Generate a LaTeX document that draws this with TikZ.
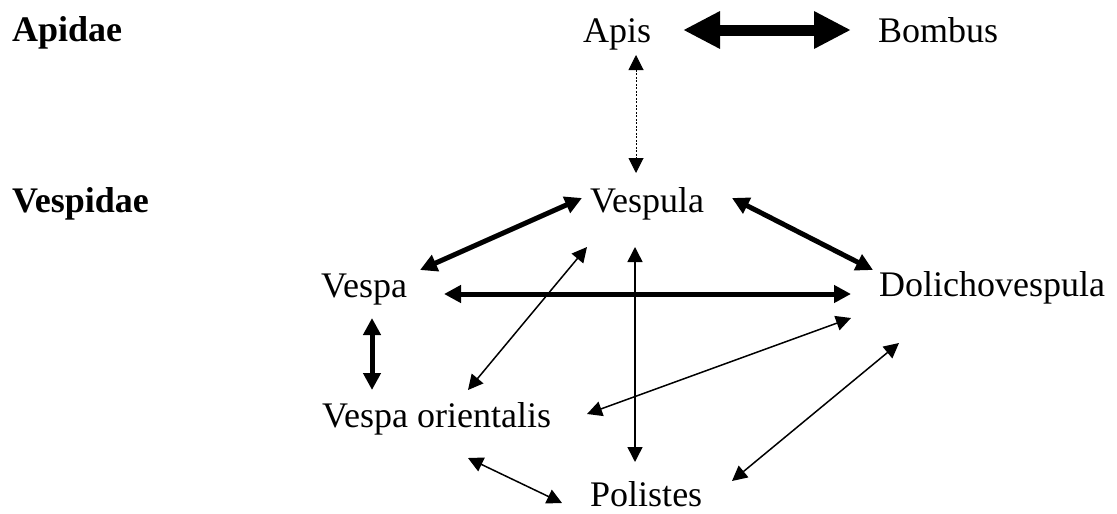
\documentclass[tikz,border=0pt]{standalone}
\usepackage{fontspec}
\setmainfont{Liberation Serif}
\usetikzlibrary{arrows.meta}
\begin{document}
\begin{tikzpicture}[x=1pt,y=-1pt,
  lbl/.style={inner sep=0pt, anchor=base west, font=\fontsize{36}{43}\selectfont},
  fam/.style={inner sep=0pt, anchor=base west, font=\fontsize{36}{43}\selectfont\bfseries},
  bigarr/.style={line width=11pt, {Triangle[length=37pt,width=35pt]}-{Triangle[length=37pt,width=35pt]}},
  thkarr/.style={line width=5pt, {Triangle[length=17pt,width=17pt]}-{Triangle[length=17pt,width=17pt]}},
  thnarr/.style={line width=1.5pt, {Triangle[length=15pt,width=15pt]}-{Triangle[length=15pt,width=15pt]}},
  dotarr/.style={line width=1pt, dash pattern=on 2pt off 1.5pt, {Triangle[length=15pt,width=15pt]}-{Triangle[length=15pt,width=15pt]}}]
\useasboundingbox (0,0) rectangle (1117,514);
% labels
\node[fam] (apidae) at (12,41) {Apidae};
\node[fam] (vespidae) at (12,212) {Vespidae};
\node[lbl] (apis) at (583,42) {Apis};
\node[lbl] (bombus) at (878,42) {Bombus};
\node[lbl] (vespula) at (590,212) {Vespula};
\node[lbl] (vespa) at (321,297) {Vespa};
\node[lbl] (dolicho) at (879,296) {Dolichovespula};
\node[lbl] (orient) at (322,427) {Vespa orientalis};
\node[lbl] (polistes) at (590,506) {Polistes};
% connector end points
\coordinate (ab1) at (683,30);  \coordinate (ab2) at (851,30);
\coordinate (av1) at (636,55);  \coordinate (av2) at (636,173);
\coordinate (vv1) at (582,198); \coordinate (vv2) at (420,270);
\coordinate (vd1) at (732,198); \coordinate (vd2) at (873,270);
\coordinate (vh1) at (444,294); \coordinate (vh2) at (851,294);
\coordinate (vo1) at (372,318); \coordinate (vo2) at (372,390);
\coordinate (t1a) at (587,247); \coordinate (t1b) at (468,390);
\coordinate (t2a) at (635,247); \coordinate (t2b) at (635,462);
\coordinate (t3a) at (851,318); \coordinate (t3b) at (587,414);
\coordinate (t4a) at (899,343); \coordinate (t4b) at (732,481);
\coordinate (t5a) at (468,458); \coordinate (t5b) at (562,503);
% connectors
\draw[bigarr] (ab1) -- (ab2);
\draw[dotarr] (av1) -- (av2);
\draw[thkarr] (vv1) -- (vv2);
\draw[thkarr] (vd1) -- (vd2);
\draw[thkarr] (vh1) -- (vh2);
\draw[thkarr] (vo1) -- (vo2);
\draw[thnarr] (t1a) -- (t1b);
\draw[thnarr] (t2a) -- (t2b);
\draw[thnarr] (t3a) -- (t3b);
\draw[thnarr] (t4a) -- (t4b);
\draw[thnarr] (t5a) -- (t5b);
\end{tikzpicture}
\end{document}
